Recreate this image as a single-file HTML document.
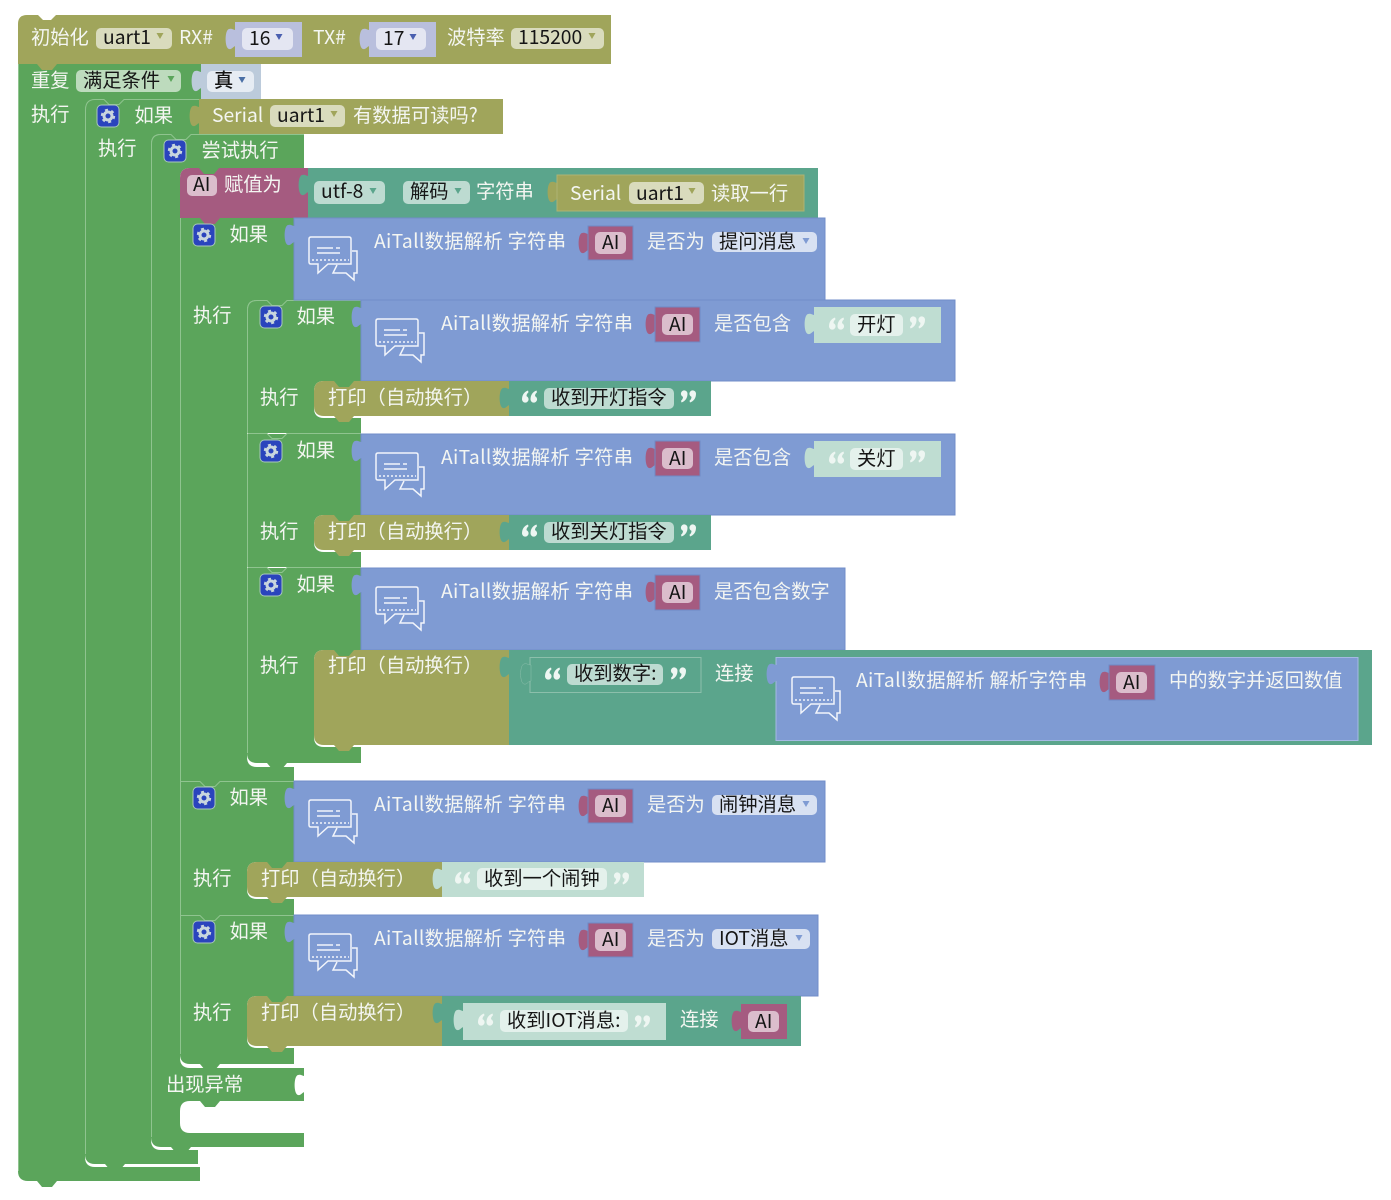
<!DOCTYPE html>
<html><head><meta charset="utf-8"><style>
html,body{margin:0;padding:0;background:#fff}
svg{display:block;filter:blur(.35px)}
text{font-family:"Noto Sans CJK SC","Liberation Sans",sans-serif;font-size:19.3px}
.w{fill:#f4f6f2}.k{fill:#151515}
rect[fill="#7f9bd3"]{stroke:#708cc8}
</style></head><body>
<svg width="1391" height="1200" viewBox="0 0 1391 1200" xmlns="http://www.w3.org/2000/svg">
<defs>
<path id="tab" d="M1,1C-2,1 -3,-1 -6,0C-10.500,1 -10.500,19 -6,20C-3,21 -2,17 1,17z"/>
<path id="bump" d="M0,0l5,6h10l5,-6z"/>
<path id="arr" d="M0.500,0h7l-3.500,6z"/>
<path id="qo" d="M1,9.500C1,5,3,2,7,0.500L7.500,2.200C6,3.500,5.300,5,5.600,6.300A3.300,3.300 0 1 1 1,9.500zM9.500,9.500C9.500,5,11.500,2,15.500,0.500L16,2.200C14.500,3.500,13.800,5,14.100,6.300A3.300,3.300 0 1 1 9.500,9.500z"/>
<g id="gear"><rect x="0" y="0" width="22" height="22" rx="4.500" fill="#2a44bd" stroke="#a9c9b9"/><circle cx="11" cy="11" r="4" fill="none" stroke="#c9d6de" stroke-width="3"/><circle cx="11" cy="11" r="6.200" fill="none" stroke="#c9d6de" stroke-width="2" stroke-dasharray="3 3.490"/></g>
<g id="chat" fill="none" stroke="#f2f5fb" stroke-width="1.500"><path d="M3,1H41q2,0 2,2V28H20L10,37V28H3q-2,0 -2,-2V3q0,-2 2,-2z"/><path d="M44,15H49V37H46V44L38,37H25L29,29"/><path d="M4,24H41" stroke-dasharray="2 2"/><path d="M9,12H25M28,12H32M9,17H32"/></g>
</defs>

<!-- repeat -->
<path fill="#5ba55b" d="M18,64H201V100H95Q85,100 85,110V1157Q85,1167 95,1167H200V1181H28Q18,1181 18,1171z"/>
<!-- init -->
<path fill="#a0a55b" d="M18,24Q18,15 27,15H611V64H18z"/>
<path fill="#fff" d="M37,14l6,6h8l6,-6z"/>
<use href="#bump" x="37" y="64" fill="#a0a55b"/>

<!-- if serial -->
<path fill="#5ba55b" d="M95,99H199V134H161Q151,134 151,144V1140Q151,1150 161,1150H198V1164H95Q85,1164 85,1154V109Q85,99 95,99z"/>
<!-- try -->
<path fill="#5ba55b" d="M161,134H304V168H190Q180,168 180,178V1058Q180,1068 190,1068H304V1101H190Q180,1101 180,1111V1123Q180,1133 190,1133H304V1147H161Q151,1147 151,1137V144Q151,134 161,134z"/>
<use href="#tab" x="304" y="1075" fill="#fff"/>

<!-- if A -->
<path fill="#5ba55b" d="M180,218H294V300H257Q247,300 247,310V757Q247,767 257,767H294V781H180z"/>
<!-- if B C D -->
<path fill="#5ba55b" d="M257,300H361V381H324Q314,381 314,391V408Q314,418 324,418H361V433H247V310Q247,300 257,300z"/>
<path fill="#5ba55b" d="M247,434H361V515H324Q314,515 314,525V542Q314,552 324,552H361V567H247z"/>
<path fill="#5ba55b" d="M247,568H361V650H324Q314,650 314,660V737Q314,747 324,747H361V763H257Q247,763 247,753z"/>
<!-- if E F -->
<path fill="#5ba55b" d="M180,781H294V862H257Q247,862 247,872V889Q247,899 257,899H294V915H180z"/>
<path fill="#5ba55b" d="M180,915H294V996H257Q247,996 247,1006V1038Q247,1048 257,1048H294V1064H190Q180,1064 180,1054z"/>

<!-- bumps green -->
<g fill="#5ba55b">
<use href="#bump" x="267" y="763"/><use href="#bump" x="200" y="1064"/><use href="#bump" x="171" y="1147"/><use href="#bump" x="105" y="1164"/><use href="#bump" x="37" y="1181"/><use href="#bump" x="200" y="1101"/>
<use href="#bump" x="200" y="218" fill="#a55b80"/>
</g>
<!-- edge highlights -->
<g stroke="#8fc48f" stroke-width="1" fill="none">
<path d="M85.500,110V1154M151.500,144V1137M180.500,218V1054M247.500,310V433M247.500,434V567M247.500,568V753M18.500,64V1171"/>
<path d="M85.500,110Q85.500,99.500 95,99.500H104l5,5h10l5,-5H199"/>
<path d="M151.500,144Q151.500,134.500 161,134.500H171l5,5h10l5,-5H304"/>
<path d="M247.500,310Q247.500,300.500 257,300.500H267l5,5h10l5,-5H361"/>
<path d="M247.500,433.500H267l5,5h10l5,-5H361"/>
<path d="M247.500,567.500H267l5,5h10l5,-5H361"/>
<path d="M180.500,781.500H200l5,5h10l5,-5H294"/>
<path d="M180.500,915.500H200l5,5h10l5,-5H294"/>
</g>

<!-- row 1 -->
<rect x="96" y="28" width="76" height="21" rx="5" fill="#d9dbbd"/>
<use href="#arr" x="156" y="33" fill="#a0a55b"/>
<use href="#tab" x="235" y="29" fill="#b9bfdd"/><rect x="235" y="22" width="67" height="35" fill="#b9bfdd"/>
<rect x="242" y="28" width="51" height="22" rx="5" fill="#e4e6f2"/><use href="#arr" x="275" y="34" fill="#4a5fb0"/>
<use href="#tab" x="369" y="29" fill="#b9bfdd"/><rect x="369" y="22" width="67" height="35" fill="#b9bfdd"/>
<rect x="376" y="28" width="50" height="22" rx="5" fill="#e4e6f2"/><use href="#arr" x="409" y="34" fill="#4a5fb0"/>
<rect x="511" y="28" width="93" height="21" rx="5" fill="#d9dbbd"/><use href="#arr" x="588" y="33" fill="#a0a55b"/>
<text class="w" x="31" y="44">初始化</text><text class="k" x="103" y="44">uart1</text><text class="w" x="179" y="44">RX#</text>
<text class="k" x="249" y="45">16</text><text class="w" x="313" y="44">TX#</text><text class="k" x="383" y="45">17</text>
<text class="w" x="447" y="44">波特率</text><text class="k" x="518" y="44">115200</text>

<!-- row 2 -->
<rect x="76" y="70" width="105" height="22" rx="5" fill="#bddbbd"/><use href="#arr" x="167" y="76" fill="#5ba55b"/>
<use href="#tab" x="201" y="71" fill="#bccbdb"/><rect x="201" y="64" width="60" height="35" fill="#bccbdb"/>
<rect x="207" y="71" width="47" height="21" rx="5" fill="#e6ecf3"/><use href="#arr" x="238" y="77" fill="#4a6fa5"/>
<text class="w" x="31" y="87">重复</text><text class="k" x="83" y="87">满足条件</text><text class="k" x="214" y="87" font-weight="500">真</text>

<!-- row 3 -->
<text class="w" x="31" y="121">执行</text>
<use href="#gear" x="97" y="105"/><text class="w" x="134.500" y="122">如果</text>
<use href="#tab" x="199" y="106" fill="#a0a55b"/><rect x="199" y="99" width="304" height="35" fill="#a0a55b"/>
<rect x="270" y="105" width="75" height="22" rx="5" fill="#d9dbbd"/><use href="#arr" x="330" y="111" fill="#a0a55b"/>
<text class="w" x="212" y="122">Serial</text><text class="k" x="277" y="122">uart1</text><text class="w" x="353" y="122">有数据可读吗?</text>

<!-- row 4 -->
<text class="w" x="98" y="155">执行</text><use href="#gear" x="164" y="140"/><text class="w" x="201.500" y="157">尝试执行</text>

<!-- row 5 assign -->
<rect x="308" y="168" width="510" height="50" fill="#5ba58c"/>
<path fill="#a55b80" d="M190,168H308V218H180V178Q180,168 190,168z"/>
<use href="#bump" x="171" y="168" fill="#5ba55b" transform="translate(28 0)"/>
<use href="#tab" x="308" y="175" fill="#5ba58c"/>
<rect x="187" y="175" width="30" height="21" rx="5" fill="#dbbdcc"/>
<text class="k" x="193" y="191">AI</text><text class="w" x="224" y="191">赋值为</text>
<rect x="314" y="181" width="71" height="23" rx="5" fill="#bddbd1"/><use href="#arr" x="369" y="188" fill="#5ba58c"/>
<rect x="403" y="181" width="67" height="23" rx="5" fill="#bddbd1"/><use href="#arr" x="454" y="188" fill="#5ba58c"/>
<text class="k" x="321" y="198">utf-8</text><text class="k" x="410" y="198">解码</text><text class="w" x="476" y="198">字符串</text>
<use href="#tab" x="557" y="182" fill="#a0a55b"/><rect x="557" y="175" width="247" height="36" fill="#a0a55b" stroke="#aeb373"/>
<rect x="629" y="182" width="75" height="22" rx="5" fill="#d9dbbd"/><use href="#arr" x="688" y="188" fill="#a0a55b"/>
<text class="w" x="570" y="200">Serial</text><text class="k" x="636" y="200">uart1</text><text class="w" x="711" y="200">读取一行</text>

<!-- if A -->
<use href="#gear" x="193" y="224"/><text class="w" x="229.500" y="241">如果</text>
<rect x="294" y="218" width="531" height="82" fill="#7f9bd3"/><use href="#tab" x="294" y="225" fill="#7f9bd3"/>
<use href="#chat" x="308" y="236"/>
<text class="w" x="374" y="248" letter-spacing=".3">AiTall数据解析 字符串</text>
<use href="#tab" x="588" y="233" fill="#a55b80"/><rect x="588" y="226" width="45" height="34" fill="#a55b80" stroke="#6f8ac4"/>
<rect x="595" y="232" width="31" height="22" rx="5" fill="#dbbdcc"/><text class="k" x="602" y="249">AI</text>
<text class="w" x="647" y="248">是否为</text>
<rect x="712" y="232" width="105" height="20" rx="5" fill="#d8e1f2"/><use href="#arr" x="802" y="238" fill="#7f9bd3"/>
<text class="k" x="719" y="248">提问消息</text>
<text class="w" x="193" y="322">执行</text>

<!-- if B -->
<use href="#gear" x="260" y="306"/><text class="w" x="296.500" y="323">如果</text>
<rect x="361" y="300" width="594" height="81" fill="#7f9bd3"/><use href="#tab" x="361" y="307" fill="#7f9bd3"/>
<use href="#chat" x="375" y="318"/>
<text class="w" x="441" y="330" letter-spacing=".3">AiTall数据解析 字符串</text>
<use href="#tab" x="655" y="314" fill="#a55b80"/><rect x="655" y="307" width="45" height="35" fill="#a55b80" stroke="#6f8ac4"/>
<rect x="662" y="314" width="31" height="21" rx="5" fill="#dbbdcc"/><text class="k" x="669" y="331">AI</text>
<text class="w" x="714" y="330">是否包含</text>
<use href="#tab" x="814" y="314" fill="#bfddd2"/><rect x="814" y="307" width="127" height="36" fill="#bfddd2"/>
<use href="#qo" x="828" y="317" fill="#eef6f2"/><rect x="850" y="314" width="53" height="22" rx="5" fill="#e4f1ec"/>
<use href="#qo" x="0" y="0" fill="#eef6f2" transform="translate(926 329) rotate(180)"/>
<text class="k" x="857" y="331">开灯</text>
<text class="w" x="260" y="404">执行</text>
<path fill="#a0a55b" d="M324,381H498V416H324Q314,416 314,406V391Q314,381 324,381z"/>
<rect x="498" y="381" width="11" height="35" fill="#a0a55b"/>
<use href="#bump" x="334" y="416" fill="#a0a55b"/><use href="#bump" x="334" y="381" fill="#5ba55b"/>
<text class="w" x="328" y="404">打印（自动换行）</text>
<rect x="509" y="381" width="202" height="35" fill="#5ba58c"/><use href="#tab" x="509" y="388" fill="#5ba58c"/>
<use href="#qo" x="521" y="390" fill="#eef6f2"/><rect x="544" y="388" width="130" height="21" rx="5" fill="#bddbd1"/>
<use href="#qo" fill="#eef6f2" transform="translate(697 403) rotate(180)"/>
<text class="k" x="551" y="404">收到开灯指令</text>

<!-- if C -->
<use href="#gear" x="260" y="440"/><text class="w" x="296.500" y="457">如果</text>
<rect x="361" y="434" width="594" height="81" fill="#7f9bd3"/><use href="#tab" x="361" y="441" fill="#7f9bd3"/>
<use href="#chat" x="375" y="452"/>
<text class="w" x="441" y="464" letter-spacing=".3">AiTall数据解析 字符串</text>
<use href="#tab" x="655" y="448" fill="#a55b80"/><rect x="655" y="441" width="45" height="35" fill="#a55b80" stroke="#6f8ac4"/>
<rect x="662" y="448" width="31" height="21" rx="5" fill="#dbbdcc"/><text class="k" x="669" y="465">AI</text>
<text class="w" x="714" y="464">是否包含</text>
<use href="#tab" x="814" y="448" fill="#bfddd2"/><rect x="814" y="441" width="127" height="36" fill="#bfddd2"/>
<use href="#qo" x="828" y="451" fill="#eef6f2"/><rect x="850" y="448" width="53" height="22" rx="5" fill="#e4f1ec"/>
<use href="#qo" fill="#eef6f2" transform="translate(926 463) rotate(180)"/>
<text class="k" x="857" y="465">关灯</text>
<text class="w" x="260" y="538">执行</text>
<path fill="#a0a55b" d="M324,515H509V550H324Q314,550 314,540V525Q314,515 324,515z"/>
<use href="#bump" x="334" y="550" fill="#a0a55b"/><use href="#bump" x="334" y="515" fill="#5ba55b"/>
<text class="w" x="328" y="538">打印（自动换行）</text>
<rect x="509" y="515" width="202" height="35" fill="#5ba58c"/><use href="#tab" x="509" y="522" fill="#5ba58c"/>
<use href="#qo" x="521" y="524" fill="#eef6f2"/><rect x="544" y="522" width="130" height="21" rx="5" fill="#bddbd1"/>
<use href="#qo" fill="#eef6f2" transform="translate(697 537) rotate(180)"/>
<text class="k" x="551" y="538">收到关灯指令</text>

<!-- if D -->
<use href="#gear" x="260" y="574"/><text class="w" x="296.500" y="591">如果</text>
<rect x="361" y="568" width="484" height="82" fill="#7f9bd3"/><use href="#tab" x="361" y="575" fill="#7f9bd3"/>
<use href="#chat" x="375" y="586"/>
<text class="w" x="441" y="598" letter-spacing=".3">AiTall数据解析 字符串</text>
<use href="#tab" x="655" y="582" fill="#a55b80"/><rect x="655" y="575" width="45" height="35" fill="#a55b80" stroke="#6f8ac4"/>
<rect x="662" y="582" width="31" height="21" rx="5" fill="#dbbdcc"/><text class="k" x="669" y="599">AI</text>
<text class="w" x="714" y="598">是否包含数字</text>
<text class="w" x="260" y="672">执行</text>
<path fill="#a0a55b" d="M324,650H509V745H324Q314,745 314,735V660Q314,650 324,650z"/>
<use href="#bump" x="334" y="745" fill="#a0a55b"/><use href="#bump" x="334" y="650" fill="#5ba55b"/>
<text class="w" x="328" y="672">打印（自动换行）</text>
<rect x="509" y="650" width="863" height="95" fill="#5ba58c"/><use href="#tab" x="509" y="657" fill="#5ba58c"/>
<rect x="530" y="657.500" width="171" height="35" fill="#5ba58c" stroke="#8cbfab"/><use href="#tab" x="530" y="664" fill="#5ba58c" stroke="#8cbfab" stroke-width=".5"/>
<use href="#qo" x="544" y="667" fill="#eef6f2"/><rect x="567" y="664" width="96" height="21" rx="5" fill="#bddbd1"/>
<use href="#qo" fill="#eef6f2" transform="translate(687 680) rotate(180)"/>
<text class="k" x="574" y="680">收到数字:</text>
<text class="w" x="715" y="680">连接</text>
<rect x="776" y="657.500" width="582" height="83" fill="#7f9bd3" style="stroke:#a5b9e3"/><use href="#tab" x="776" y="664" fill="#7f9bd3"/>
<use href="#chat" x="791" y="676"/>
<text class="w" x="856" y="687" letter-spacing=".3">AiTall数据解析 解析字符串</text>
<use href="#tab" x="1109" y="672" fill="#a55b80"/><rect x="1109" y="665" width="46" height="35" fill="#a55b80" stroke="#6f8ac4"/>
<rect x="1116" y="672" width="31" height="21" rx="5" fill="#dbbdcc"/><text class="k" x="1123" y="689">AI</text>
<text class="w" x="1169" y="687">中的数字并返回数值</text>

<!-- if E -->
<use href="#gear" x="193" y="787"/><text class="w" x="229.500" y="804">如果</text>
<rect x="294" y="781" width="531" height="81" fill="#7f9bd3"/><use href="#tab" x="294" y="788" fill="#7f9bd3"/>
<use href="#chat" x="308" y="799"/>
<text class="w" x="374" y="811" letter-spacing=".3">AiTall数据解析 字符串</text>
<use href="#tab" x="588" y="796" fill="#a55b80"/><rect x="588" y="789" width="45" height="34" fill="#a55b80" stroke="#6f8ac4"/>
<rect x="595" y="795" width="31" height="22" rx="5" fill="#dbbdcc"/><text class="k" x="602" y="812">AI</text>
<text class="w" x="647" y="811">是否为</text>
<rect x="712" y="795" width="105" height="20" rx="5" fill="#d8e1f2"/><use href="#arr" x="802" y="801" fill="#7f9bd3"/>
<text class="k" x="719" y="811">闹钟消息</text>
<text class="w" x="193" y="885">执行</text>
<path fill="#a0a55b" d="M257,862H442V897H257Q247,897 247,887V872Q247,862 257,862z"/>
<use href="#bump" x="267" y="897" fill="#a0a55b"/><use href="#bump" x="267" y="862" fill="#5ba55b"/>
<text class="w" x="261" y="885">打印（自动换行）</text>
<rect x="442" y="862" width="202" height="35" fill="#bfddd2"/><use href="#tab" x="442" y="869" fill="#bfddd2"/>
<use href="#qo" x="454" y="871" fill="#eef6f2"/><rect x="477" y="868" width="130" height="22" rx="5" fill="#e4f1ec"/>
<use href="#qo" fill="#eef6f2" transform="translate(630 885) rotate(180)"/>
<text class="k" x="484" y="885">收到一个闹钟</text>

<!-- if F -->
<use href="#gear" x="193" y="921"/><text class="w" x="229.500" y="938">如果</text>
<rect x="294" y="915" width="524" height="81" fill="#7f9bd3"/><use href="#tab" x="294" y="922" fill="#7f9bd3"/>
<use href="#chat" x="308" y="933"/>
<text class="w" x="374" y="945" letter-spacing=".3">AiTall数据解析 字符串</text>
<use href="#tab" x="588" y="930" fill="#a55b80"/><rect x="588" y="923" width="45" height="34" fill="#a55b80" stroke="#6f8ac4"/>
<rect x="595" y="929" width="31" height="22" rx="5" fill="#dbbdcc"/><text class="k" x="602" y="946">AI</text>
<text class="w" x="647" y="945">是否为</text>
<rect x="712" y="929" width="98" height="20" rx="5" fill="#d8e1f2"/><use href="#arr" x="795" y="935" fill="#7f9bd3"/>
<text class="k" x="719" y="945">IOT消息</text>
<text class="w" x="193" y="1019">执行</text>
<path fill="#a0a55b" d="M257,996H442V1046H257Q247,1046 247,1036V1006Q247,996 257,996z"/>
<use href="#bump" x="267" y="1046" fill="#a0a55b"/><use href="#bump" x="267" y="996" fill="#5ba55b"/>
<text class="w" x="261" y="1019">打印（自动换行）</text>
<rect x="442" y="996" width="359" height="50" fill="#5ba58c"/><use href="#tab" x="442" y="1003" fill="#5ba58c"/>
<use href="#tab" x="463" y="1010" fill="#bfddd2"/><rect x="463" y="1003" width="203" height="37" fill="#bfddd2"/>
<use href="#qo" x="477" y="1013" fill="#eef6f2"/><rect x="500" y="1010" width="128" height="22" rx="5" fill="#e4f1ec"/>
<use href="#qo" fill="#eef6f2" transform="translate(651 1028) rotate(180)"/>
<text class="k" x="507" y="1027">收到IOT消息:</text>
<text class="w" x="680" y="1026">连接</text>
<use href="#tab" x="741" y="1011" fill="#a55b80"/><rect x="741" y="1004" width="46" height="35" fill="#a55b80"/>
<rect x="748" y="1011" width="31" height="21" rx="5" fill="#dbbdcc"/><text class="k" x="755" y="1028">AI</text>

<text class="w" x="166" y="1091">出现异常</text>
</svg>
</body></html>
